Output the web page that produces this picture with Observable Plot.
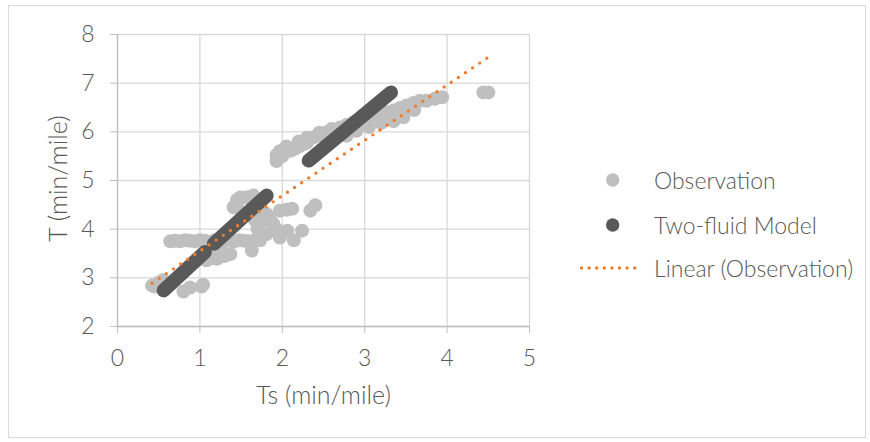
<!DOCTYPE html>
<html>
<head>
<meta charset="utf-8">
<script src="https://cdn.jsdelivr.net/npm/d3@7"></script>
<script src="https://cdn.jsdelivr.net/npm/@observablehq/plot@0.6"></script>
<style>
  html, body { margin: 0; padding: 0; background: #fff; }
  body { width: 870px; height: 442px; position: relative; overflow: hidden;
         font-family: "Lato", "Open Sans", sans-serif; font-weight: 300; color: #595959; }
  #chart { position: absolute; left: 0; top: 0; }
  #frame { position: absolute; left: 8px; top: 5px; width: 858px; height: 433px;
           border: 1px solid #d9d9d9; box-sizing: border-box; pointer-events: none; }
  #legend { position: absolute; left: 570px; top: 165px; font-size: 23px; }
  .row { position: absolute; left: 0; height: 30px; white-space: nowrap; }
  .row svg { position: absolute; left: 0; top: 0; }
  .row span { position: absolute; left: 84px; top: 15px; transform: translateY(-50%); line-height: 1; }
</style>
</head>
<body>
<div id="chart"></div>
<div id="frame"></div>
<div id="legend"></div>
<script>
// ---- data ----
const xTicks = [0, 1, 2, 3, 4, 5];
const yTicks = [2, 3, 4, 5, 6, 7, 8];
const xTitle = "Ts (min/mile)";
const yTitle = "T (min/mile)";
const seriesNames = ["Observation", "Two-fluid Model", "Linear (Observation)"];

// Observation (Ts, T)
const obsTs = [
  0.42, 0.45, 0.50, 0.55, 0.80, 0.88, 1.04, 1.02,
  0.64, 0.70, 0.76, 0.82, 0.88, 0.94, 1.00, 1.06, 1.12, 1.18, 1.24, 1.30, 1.36, 1.42, 1.48, 1.54, 1.60, 1.67,
  1.08, 1.15, 1.21, 1.30, 1.37, 1.63, 1.12, 1.25,
  1.45, 1.49, 1.55, 1.60, 1.65, 1.45, 1.41, 1.67, 1.73,
  1.81, 1.97, 2.05, 2.12, 1.89, 1.81, 1.73, 1.97, 2.14, 2.24, 2.06, 2.40, 2.34, 1.77, 1.70, 1.85, 1.93,
  1.93, 1.93, 1.97, 2.00, 2.05, 2.10, 2.15, 2.20, 2.26, 2.30, 2.38, 2.46, 2.54, 2.62, 2.70, 2.78, 2.86, 2.95,
  3.03, 3.11, 3.19, 3.27, 3.35, 3.43, 3.51, 3.59, 3.67, 3.75, 3.85, 3.94, 4.44, 4.50,
  2.05, 2.20, 2.30, 2.45, 2.60,
  2.78, 2.90, 3.05, 3.20, 3.35, 3.47, 3.60
];
const obsT = [
  2.84, 2.82, 2.90, 2.95, 2.72, 2.80, 2.86, 2.82,
  3.75, 3.76, 3.75, 3.77, 3.76, 3.75, 3.77, 3.76, 3.74, 3.77, 3.75, 3.76, 3.78, 3.75, 3.77, 3.76, 3.75, 3.77,
  3.36, 3.40, 3.39, 3.45, 3.49, 3.56, 3.55, 3.62,
  4.45, 4.65, 4.65, 4.66, 4.69, 4.60, 4.45, 4.18, 4.32,
  4.31, 4.38, 4.40, 4.42, 4.11, 3.90, 3.77, 3.83, 3.77, 3.97, 3.97, 4.49, 4.38, 4.18, 4.00, 4.20, 4.00,
  5.40, 5.52, 5.60, 5.50, 5.62, 5.61, 5.65, 5.70, 5.75, 5.78, 5.89, 5.93, 5.99, 6.03, 6.09, 6.14, 6.19, 6.25,
  6.30, 6.33, 6.37, 6.40, 6.44, 6.49, 6.54, 6.59, 6.64, 6.64, 6.68, 6.71, 6.81, 6.81,
  5.70, 5.80, 5.88, 5.98, 6.06,
  5.92, 6.02, 6.10, 6.18, 6.22, 6.30, 6.45
];

// Two-fluid Model (three runs of densely packed points)
const modelSeg = [1, 1, 2, 2, 3, 3];
const modelTs = [0.56, 1.06, 1.17, 1.81, 2.32, 3.32];
const modelT  = [2.74, 3.53, 3.70, 4.69, 5.41, 6.81];

// Linear trend of Observation (end points)
const trendTs = [0.42, 4.49];
const trendT  = [2.89, 7.52];

// ---- build tables ----
const obs = obsTs.map((x, i) => ({x, y: obsT[i]}));
const model = modelTs.map((x, i) => ({x, y: modelT[i], s: modelSeg[i]}));
const trend = trendTs.map((x, i) => ({x, y: trendT[i]}));

const colObs = "#bfbfbf", colModel = "#595959", colTrend = "#ed7d31";
const font = '"Lato", "Open Sans", sans-serif';

const plot = Plot.plot({
  width: 870, height: 442,
  marginLeft: 117, marginRight: 341, marginTop: 34, marginBottom: 116,
  style: {fontFamily: font, fontSize: "23px", fontWeight: 300, color: "#595959", background: "transparent", overflow: "visible"},
  x: {domain: [0, 5]},
  y: {domain: [2, 8]},
  marks: [
    Plot.gridX(xTicks, {stroke: "#d9d9d9", strokeOpacity: 1, strokeWidth: 1.3}),
    Plot.gridY(yTicks, {stroke: "#d9d9d9", strokeOpacity: 1, strokeWidth: 1.3}),
    Plot.ruleX([0], {stroke: "#bfbfbf", strokeWidth: 1.3}),
    Plot.ruleY([2], {stroke: "#bfbfbf", strokeWidth: 1.3}),
    Plot.axisX(xTicks, {tickSize: 7, tickPadding: 16, stroke: "#bfbfbf", fill: "#595959", label: null, tickFormat: d => String(d)}),
    Plot.axisY(yTicks, {tickSize: 7, tickPadding: 16, stroke: "#bfbfbf", fill: "#595959", label: null, tickFormat: d => String(d)}),
    Plot.text([xTitle], {frameAnchor: "bottom", lineAnchor: "middle", textAnchor: "middle", dy: 69, fill: "#595959", fontSize: 25}),
    Plot.text([yTitle], {frameAnchor: "left", lineAnchor: "middle", textAnchor: "middle", dx: -59, dy: -2, rotate: -90, fill: "#595959", fontSize: 25}),
    Plot.dot(obs, {x: "x", y: "y", r: 7, fill: colObs, stroke: "none"}),
    Plot.line(model, {x: "x", y: "y", z: "s", stroke: colModel, strokeWidth: 14, strokeLinecap: "round"}),
    Plot.line(trend, {x: "x", y: "y", stroke: colTrend, strokeWidth: 3.4, strokeLinecap: "round", strokeDasharray: "0 8.58"})
  ]
});
document.getElementById("chart").appendChild(plot);

// ---- legend ----
const legend = document.getElementById("legend");
const rows = [
  {top: 0, svg: `<circle cx="42.7" cy="15" r="6.7" fill="${colObs}"/>`},
  {top: 45, svg: `<circle cx="42.7" cy="15" r="6.7" fill="${colModel}"/>`},
  {top: 88, svg: `<line x1="11.5" y1="15" x2="72" y2="15" stroke="${colTrend}" stroke-width="3.4" stroke-linecap="round" stroke-dasharray="0 7.6"/>`}
];
rows.forEach((r, i) => {
  const d = document.createElement("div");
  d.className = "row";
  d.style.top = r.top + "px";
  d.innerHTML = `<svg width="80" height="30">${r.svg}</svg><span>${seriesNames[i]}</span>`;
  legend.appendChild(d);
});
</script>
</body>
</html>
